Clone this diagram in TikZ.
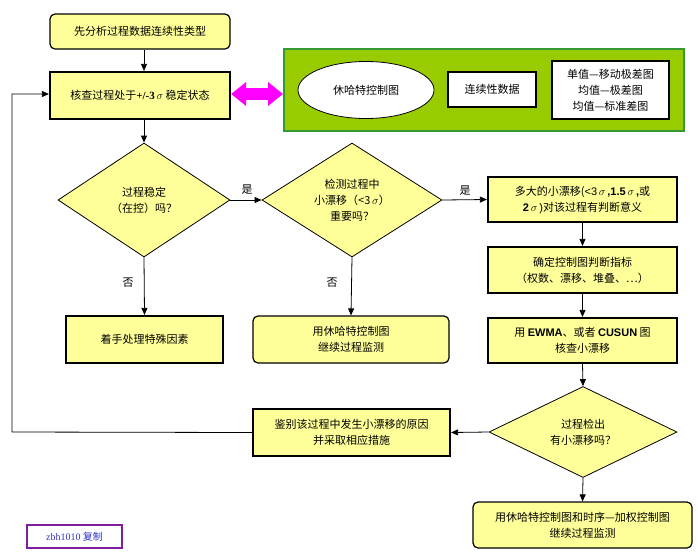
\documentclass[tikz,border=0pt]{standalone}
\usepackage{fontspec}
\setmainfont{Noto Sans CJK SC}
\newfontfamily\lsans{Liberation Sans}
\newfontfamily\lserif{Liberation Serif}
\usetikzlibrary{shapes.geometric, arrows.meta}
\definecolor{yel}{HTML}{FFFF99}
\definecolor{grn}{HTML}{99CC00}
\definecolor{grnb}{HTML}{339933}
\definecolor{mag}{HTML}{FF00FF}
\definecolor{purp}{HTML}{7F1F9F}
\definecolor{sigblue}{HTML}{3333CC}
\newcommand{\sg}{\ensuremath{\sigma}}
\begin{document}
\begin{tikzpicture}[x=1pt,y=-1pt,
  every node/.style={font=\fontsize{11}{16}\selectfont},
  box/.style={draw, fill=yel, line width=1pt, inner sep=0pt, align=center},
  thickbox/.style={box, line width=2.2pt},
  rbox/.style={box, rounded corners=5pt, line width=1.2pt},
  dia/.style={diamond, draw, fill=yel, line width=0.8pt, inner sep=0pt, align=center, aspect=1.6},
  wbox/.style={draw, fill=white, line width=1.2pt, inner sep=0pt, align=center},
  arr/.style={-{Triangle[length=7pt,width=6pt]}, line width=0.8pt},
  lab/.style={inner sep=0pt}]
\useasboundingbox (0,0) rectangle (698,555);

% top boxes
\node[rbox, minimum width=180, minimum height=35] (b1) at (140,31.5) {先分析过程数据连续性类型};
\node[thickbox, minimum width=180, minimum height=47] (b2) at (140,95.5) {核查过程处于{\lserif\bfseries +/-3}\,\sg\ 稳定状态};

% green panel
\node[draw=grnb, fill=grn, line width=2pt, minimum width=400, minimum height=82, inner sep=0pt] (gp) at (484,90) {};
\node[ellipse, draw, fill=white, line width=0.8pt, minimum width=136, minimum height=57, inner sep=0pt] (ell) at (366,90) {休哈特控制图};
\node[wbox, minimum width=88, minimum height=35] (cont) at (492,89.5) {连续性数据};
\node[wbox, minimum width=117, minimum height=58] (three) at (610.5,90) {单值—移动极差图\\均值—极差图\\均值—标准差图};

% magenta double arrow
\draw[mag, line width=12pt, {Triangle[length=15pt,width=23pt]}-{Triangle[length=15pt,width=23pt]}] ([yshift=1.5pt]b2.east) -- ([yshift=1.5pt]b2.east -| gp.west);

% diamonds
\node[dia, minimum width=172, minimum height=114] (d1) at (144,200) {过程稳定\\（在控）吗？};
\node[dia, minimum width=180, minimum height=114] (d2) at (352,200) {检测过程中\\小漂移（<3\,\sg）\\重要吗？};

% lower-left boxes
\node[thickbox, minimum width=157, minimum height=47] (zs) at (144.5,339.5) {着手处理特殊因素};
\node[rbox, minimum width=196, minimum height=47] (yx) at (351,339.5) {用休哈特控制图\\继续过程监测};

% right column
\node[thickbox, minimum width=189, minimum height=45] (r1) at (582.5,199.5) {多大的小漂移({\lsans <3}\,\sg\,{\lsans\bfseries ,1.5}\,\sg\,{\lsans\bfseries ,}或\\{\lsans\bfseries 2}\,\sg\,{\lsans )}对该过程有判断意义};
\node[thickbox, minimum width=189, minimum height=46] (r2) at (582.5,270) {确定控制图判断指标\\（权数、漂移、堆叠、…）};
\node[thickbox, minimum width=189, minimum height=45] (r3) at (582.5,340.5) {用 {\lsans\bfseries EWMA}、或者 {\lsans\bfseries CUSUN} 图\\核查小漂移};
\node[dia, aspect=2, minimum width=188, minimum height=91] (d3) at (583,432) {过程检出\\有小漂移吗？};
\node[thickbox, minimum width=197, minimum height=47] (jb) at (351.5,432.5) {鉴别该过程中发生小漂移的原因\\并采取相应措施};
\node[rbox, minimum width=219, minimum height=46] (bb) at (582.5,525) {用休哈特控制图和时序—加权控制图\\继续过程监测};

% signature
\node[draw=purp, line width=2pt, fill=white, minimum width=95, minimum height=23, inner sep=0pt, text=sigblue, font=\fontsize{10}{12}\selectfont] (sig) at (74.5,536.5) {{\lserif zbh1010} 复制};

% connectors
\draw[arr] (b1.south -| d1.north) -- (b2.north -| d1.north);
\draw[arr] (b2.south -| d1.north) -- (d1.north);
\draw[arr] (d1.east) -- (d2.west);
\draw[arr] (d2.east) -- (r1.west);
\draw[arr] (d1.south) -- (zs.north);
\draw[arr] (d2.south) -- (yx.north);
\draw[arr] (r1.south) -- (r2.north);
\draw[arr] (r2.south) -- (r3.north);
\draw[arr] (r3.south) -- (d3.north);
\draw[arr] (d3.south) -- (bb.north);
\draw[arr] (d3.west) -- (jb.east);
\coordinate (fb) at (12,432);
\draw[arr] (jb.west) -- (fb) |- ([yshift=1.5pt]b2.west);

% labels
\node[lab] (y1) at (247,190) {是};
\node[lab] (y2) at (465,191) {是};
\node[lab] (n1) at (128,283) {否};
\node[lab] (n2) at (332,283) {否};
\end{tikzpicture}
\end{document}
